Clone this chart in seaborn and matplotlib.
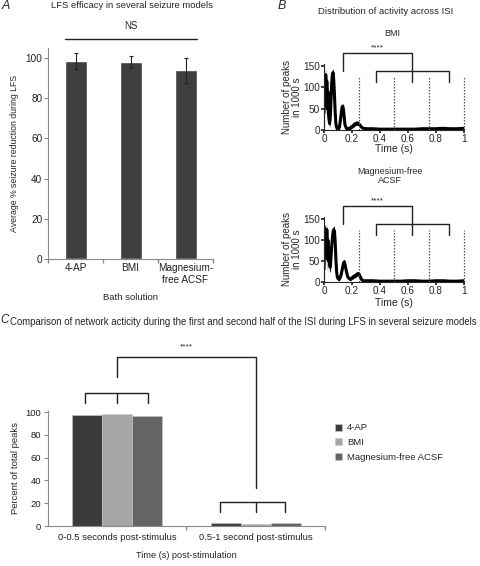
import numpy as np
import pandas as pd
import seaborn as sns
import matplotlib.pyplot as plt

# Panel A: LFS efficacy per bath solution
models = ['4-AP', 'BMI', 'Magnesium-\nfree ACSF']
efficacy = [98.5, 98.0, 94.0]
efficacy_err = [4.0, 3.2, 6.2]

# Panel B: peak counts across the inter-stimulus interval
t = [0, .004, .008, .012, .016, .02, .024, .028, .032, .036,
     .04, .045, .05, .055, .06, .065, .07, .075, .08, .085,
     .09, .095, .1, .11, .12, .125, .13, .135, .14, .145,
     .15, .16, .17, .18, .19, .2, .21, .22, .23, .24,
     .25, .26, .27, .28, .3, .35, .4, .45, .5, .55,
     .6, .65, .7, .75, .8, .85, .9, .95, 1.0]
bmi_mean = [40, 125, 70, 130, 60, 115, 50, 90, 40, 25,
            15, 30, 70, 110, 130, 135, 115, 80, 40, 15,
            6, 3, 3, 6, 30, 45, 55, 55, 45, 28,
            12, 4, 3, 4, 6, 8, 11, 14, 16, 16,
            14, 10, 6, 4, 3, 3, 2, 2, 2, 2,
            2, 2, 3, 3, 3, 4, 3, 3, 4]
bmi_err = [25, 20, 30, 15, 30, 20, 30, 25, 20, 12,
           10, 10, 10, 10, 10, 10, 10, 10, 10, 10,
           6, 5, 5, 6, 7, 7, 7, 7, 7, 6,
           5, 4, 4, 4, 4, 4, 5, 5, 5, 5,
           4, 4, 3, 3, 3, 2, 2, 2, 2, 2,
           2, 2, 2, 2, 2, 2, 2, 2, 2]
mg_mean = [30, 130, 60, 120, 70, 125, 55, 100, 50, 80,
           40, 35, 60, 85, 105, 120, 125, 120, 95, 55,
           25, 12, 8, 8, 15, 22, 30, 38, 45, 48,
           42, 25, 12, 8, 7, 10, 13, 15, 17, 20,
           19, 12, 5, 3, 3, 3, 2, 2, 2, 2,
           3, 3, 2, 2, 3, 3, 2, 2, 3]
mg_err = [25, 15, 30, 20, 30, 15, 30, 25, 25, 20,
          15, 12, 10, 10, 10, 10, 10, 10, 10, 10,
          7, 6, 5, 5, 6, 7, 7, 7, 7, 7,
          6, 5, 4, 4, 4, 4, 5, 5, 5, 5,
          4, 4, 3, 3, 3, 2, 2, 2, 2, 2,
          2, 2, 2, 2, 2, 2, 2, 2, 2]

# Panel C: share of peaks in each half of the ISI
periods = ['0-0.5 seconds post-stimulus', '0.5-1 second post-stimulus']
legend_models = ['4-AP', 'BMI', 'Magnesium-free ACSF']
pct_first = [97.5, 98.5, 97.0]
pct_second = [2.5, 1.5, 3.0]
model_colors = ['#3b3b3b', '#a5a5a5', '#646464']

sns.set_theme(style='ticks')
plt.rcParams['font.family'] = ['Liberation Sans', 'DejaVu Sans']
plt.rcParams['axes.linewidth'] = 0.8

W, H = 480, 566
fig = plt.figure(figsize=(4.8, 5.66), dpi=100)


def box(left, top, right, bottom):
    return [left / W, 1 - bottom / H, (right - left) / W, (bottom - top) / H]


def ftext(x, y, s, **kw):
    kw.setdefault('ha', 'center')
    kw.setdefault('va', 'center')
    fig.text(x / W, 1 - y / H, s, **kw)


def grey_axes(ax):
    sns.despine(ax=ax)
    for side in ['left', 'bottom']:
        ax.spines[side].set_color('#8a8a8a')
    ax.tick_params(colors='#8a8a8a', labelcolor='#222222', width=0.8)


# ---- Panel A ----
axA = fig.add_axes(box(48, 48, 213, 259))
sns.barplot(x=models, y=efficacy, color='#3f3f3f', saturation=1,
            width=0.4, ax=axA)
axA.errorbar(range(len(models)), efficacy, yerr=efficacy_err, fmt='none',
             ecolor='#222222', elinewidth=0.8, capsize=1.5, capthick=0.8)
axA.set_xlim(-0.5, 2.5)
axA.set_ylim(0, 105)
axA.set_yticks(range(0, 101, 20))
grey_axes(axA)
axA.tick_params(axis='x', length=0, labelsize=7.2, pad=3)
axA.set_xticks([-0.5, 0.5, 1.5, 2.5], minor=True)
axA.tick_params(axis='x', which='minor', length=3, color='#8a8a8a')
axA.tick_params(axis='y', labelsize=7.2, length=3, pad=1)
axA.set_ylabel('Average % seizure reduction during LFS', fontsize=6.3, labelpad=5)
axA.set_xlabel('Bath solution', fontsize=6.8, labelpad=6)
axA.plot([-0.2, 2.2], [109.5, 109.5], color='#222222', lw=1, clip_on=False)
axA.text(1, 116, 'NS', ha='center', va='center', fontsize=7)
ftext(132, 5, 'LFS efficacy in several seizure models', fontsize=6.8)
ftext(6, 6, 'A', fontsize=9, style='italic')


# ---- Panel B ----
def isi_panel(ax, mean, err):
    lower = np.array(mean) - np.array(err)
    upper = np.array(mean) + np.array(err)
    ax.fill_between(t, np.clip(lower, 0, None), upper, color='black', lw=0)
    sns.lineplot(x=t, y=mean, estimator=None, color='black', lw=2.2, ax=ax)
    for xv in [0, 0.25, 0.5, 0.75, 1.0]:
        ax.plot([xv, xv], [0, 125], color='#555555', lw=0.9, ls=(0, (1.2, 1.2)),
                clip_on=False)
    ax.set_xlim(0, 1)
    ax.set_ylim(0, 155)
    ax.set_yticks([0, 50, 100, 150])
    ax.set_xticks([0, 0.2, 0.4, 0.6, 0.8, 1.0])
    ax.set_xticklabels(['0', '0.2', '0.4', '0.6', '0.8', '1'])
    sns.despine(ax=ax)
    ax.tick_params(labelsize=7.2, length=2, pad=1)
    ax.set_ylabel('Number of peaks\nin 1000 s', fontsize=7, labelpad=1, linespacing=1.0)
    # significance brackets
    kw = dict(color='#222222', lw=1, clip_on=False)
    ax.plot([0.135, 0.135, 0.625, 0.625], [138, 181, 181, 112], **kw)
    ax.plot([0.37, 0.37, 0.89, 0.89], [112, 138, 138, 112], **kw)
    ax.text(0.38, 184, '****', ha='center', va='bottom', fontsize=6)


axB1 = fig.add_axes(box(324, 64, 464, 130))
isi_panel(axB1, bmi_mean, bmi_err)
axB1.set_xlabel('Time (s)', fontsize=7.5, labelpad=0)

axB2 = fig.add_axes(box(324, 217, 464, 282))
isi_panel(axB2, mg_mean, mg_err)
axB2.set_xlabel('Time (s)', fontsize=7.5, labelpad=1)

ftext(386, 11, 'Distribution of activity across ISI', fontsize=6.8)
ftext(392, 33, 'BMI', fontsize=6.5)
ftext(390, 176, 'Magnesium-free\nACSF', fontsize=6.5, linespacing=1.1)
ftext(282, 6, 'B', fontsize=9, style='italic')

# ---- Panel C ----
dfC = pd.DataFrame({
    'period': [periods[0]] * 3 + [periods[1]] * 3,
    'model': legend_models * 2,
    'pct': pct_first + pct_second,
})
axC = fig.add_axes(box(48, 411, 325, 526))
sns.barplot(data=dfC, x='period', y='pct', hue='model', palette=model_colors,
            saturation=1, width=0.65, gap=0, edgecolor='#c8c8c8', linewidth=0.4,
            ax=axC)
axC.set_xlim(-0.5, 1.5)
axC.set_ylim(0, 101)
axC.set_yticks(range(0, 101, 20))
grey_axes(axC)
axC.tick_params(axis='x', length=0, labelsize=6.8, pad=5)
axC.set_xticks([0.5, 1.5], minor=True)
axC.tick_params(axis='x', which='minor', length=3, color='#8a8a8a')
axC.tick_params(axis='y', labelsize=6.8, length=3, pad=2)
axC.set_ylabel('Percent of total peaks', fontsize=6.8, labelpad=4)
axC.set_xlabel('')
ftext(186, 556, 'Time (s) post-stimulation', fontsize=6.6)

kw = dict(color='#222222', lw=1, clip_on=False)
axC.plot([-0.235, -0.235, 0.225, 0.225], [108, 117, 117, 108], **kw)
axC.plot([0, 0], [117, 108], **kw)
axC.plot([0.745, 0.745, 1.21, 1.21], [12, 21, 21, 12], **kw)
axC.plot([1, 1], [21, 12], **kw)
axC.plot([0, 0, 1, 1], [131, 148, 148, 33], **kw)
axC.text(0.5, 154, '****', ha='center', va='bottom', fontsize=6)

sns.move_legend(axC, 'upper left', bbox_to_anchor=(326 / W, 1 - 415 / H),
                bbox_transform=fig.transFigure, frameon=False, title=None,
                fontsize=6.8, handlelength=0.75, handleheight=0.75,
                handletextpad=0.6, labelspacing=0.6)

ftext(10, 322, 'Comparison of network acticity during the first and second half of '
      'the ISI during LFS in several seizure models', fontsize=6.9, ha='left')
ftext(0, 320, 'C', fontsize=8.5, style='italic', ha='left')

fig.savefig('out.png', dpi=100)
